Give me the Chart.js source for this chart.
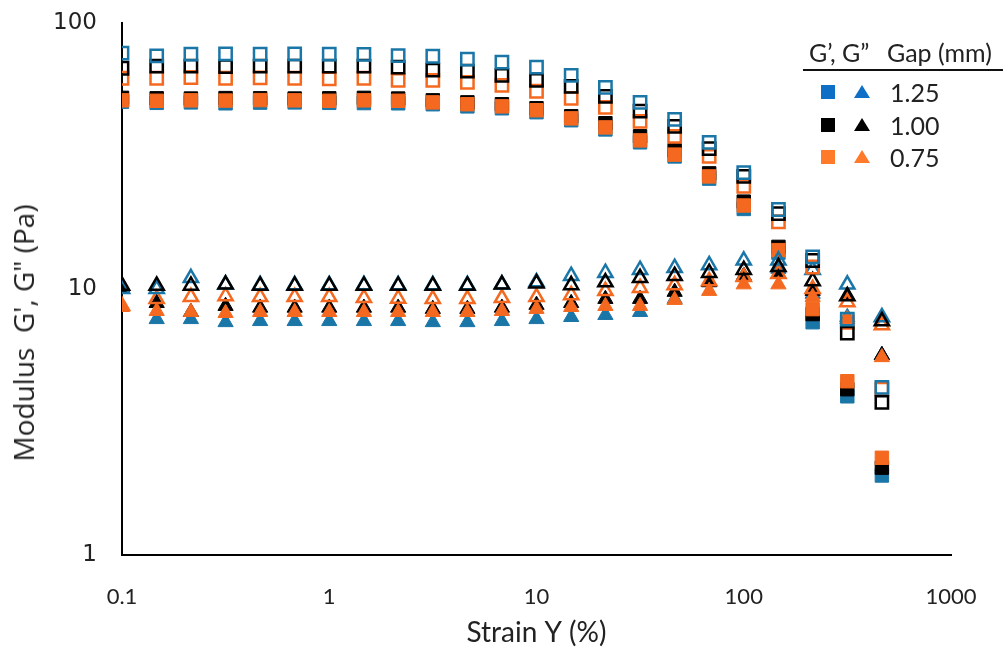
<!DOCTYPE html>
<html>
<head>
<meta charset="utf-8">
<script src="https://cdn.jsdelivr.net/npm/chart.js@4/dist/chart.umd.min.js"></script>
<style>
  body { margin: 0; background: #fff; }
  #wrap { position: relative; width: 1003px; height: 650px; }
  .lg { position: absolute; font-family: Lato, sans-serif; font-size: 25px; color: #222; line-height: 1; white-space: nowrap; }
  .sq { position: absolute; width: 14px; height: 14px; }
  .tri { position: absolute; width: 0; height: 0; border-left: 8px solid transparent; border-right: 8px solid transparent; border-bottom: 13px solid; }
  #uline { position: absolute; left: 803px; top: 69px; width: 200px; height: 2px; background: #111; }
  #ytitle { position: absolute; left: 23px; top: 333px; transform: translate(-50%, -50%) rotate(-90deg);
    font-family: 'Open Sans', sans-serif; font-size: 28px; color: #222; white-space: pre; line-height: 1; }
</style>
</head>
<body>
<div id="wrap">
  <canvas id="chart" width="1003" height="650"></canvas>
  <div id="ytitle">Modulus  G', G" (Pa)</div>
  <div class="lg" style="left:809px; top:40px;">G’, G”</div>
  <div class="lg" style="left:887px; top:40px;">Gap (mm)</div>
  <div id="uline"></div>
  <div id="legendRows"></div>
</div>
<script>
// strain amplitude (%), 6 points per decade
const strain = [0.1, 0.147, 0.215, 0.316, 0.464, 0.681, 1, 1.47, 2.15, 3.16, 4.64, 6.81,
  10, 14.7, 21.5, 31.6, 46.4, 68.1, 100, 147, 215, 316, 464];

const gaps = ['1.25', '1.00', '0.75'];
const xTicks = [0.1, 1, 10, 100, 1000];
const yTicks = [1, 10, 100];

// filled squares
const sqFill125 = [50.6, 50.1, 50.3, 49.9, 50.2, 50.3, 50.1, 50.0, 49.9, 49.5, 48.6, 47.8, 46.2, 43.1, 39.8, 35.6, 31.5, 26.0, 20.0, 13.7, 7.5, 3.95, 1.99];
const sqFill100 = [52.3, 52.1, 52.0, 52.2, 52.1, 52.0, 52.1, 52.3, 52.0, 51.2, 50.3, 49.5, 47.8, 44.6, 42.0, 37.5, 33.2, 27.2, 21.3, 14.4, 8.05, 4.2, 2.13];
const sqFill075 = [51.2, 51.0, 51.2, 51.1, 51.3, 51.2, 51.0, 51.2, 51.0, 50.3, 49.5, 48.6, 47.0, 43.8, 40.5, 36.2, 32.0, 26.5, 20.6, 14.0, 8.4, 4.5, 2.32];
// open squares
const sqOpen125 = [77.1, 75.2, 76.4, 76.6, 76.4, 76.6, 76.4, 76.2, 75.4, 75.0, 73.1, 71.3, 68.2, 63.6, 57.3, 50.3, 43.4, 35.6, 27.4, 19.9, 13.2, 7.7, 4.27];
const sqOpen100 = [67.6, 68.8, 68.8, 68.6, 68.8, 68.9, 68.8, 68.8, 68.2, 66.5, 65.9, 63.6, 60.9, 57.8, 53.0, 46.6, 40.9, 33.7, 26.5, 19.2, 12.8, 6.82, 3.75];
const sqOpen075 = [62.0, 62.0, 62.4, 62.0, 62.2, 62.0, 61.6, 62.0, 60.9, 60.9, 59.8, 58.3, 55.4, 52.1, 48.2, 42.7, 37.5, 31.5, 24.3, 17.9, 12.1, 7.5, 4.2];
// filled triangles
const triFill125 = [10.0, 7.7, 7.7, 7.5, 7.57, 7.57, 7.57, 7.57, 7.57, 7.5, 7.5, 7.57, 7.7, 7.84, 7.98, 8.19, 9.17, 10.6, 11.2, 11.9, 9.58, 7.84, 5.64];
const triFill100 = [10.1, 8.85, 8.19, 8.63, 8.5, 8.5, 8.5, 8.5, 8.5, 8.41, 8.41, 8.5, 8.71, 8.85, 9.17, 9.17, 9.75, 10.6, 11.2, 11.4, 9.83, 9.4, 5.64];
const triFill075 = [8.55, 8.26, 8.19, 8.12, 8.19, 8.19, 8.19, 8.19, 8.19, 8.19, 8.19, 8.26, 8.41, 8.55, 8.63, 8.63, 9.09, 9.83, 10.4, 10.4, 9.33, 7.7, 5.54];
// open triangles
const triOpen125 = [10.0, 10.0, 11.0, 10.4, 10.35, 10.35, 10.35, 10.35, 10.35, 10.35, 10.35, 10.4, 10.6, 11.2, 11.5, 11.8, 12.0, 12.3, 12.8, 12.8, 11.8, 10.4, 7.84];
const triOpen100 = [10.3, 10.3, 10.3, 10.4, 10.3, 10.3, 10.3, 10.3, 10.3, 10.3, 10.3, 10.4, 10.5, 10.35, 10.6, 11.0, 11.2, 11.5, 11.8, 12.1, 10.7, 9.4, 7.57];
const triOpen075 = [8.63, 9.17, 9.33, 9.4, 9.33, 9.33, 9.33, 9.25, 9.2, 9.17, 9.17, 9.25, 9.33, 9.49, 9.83, 10.1, 10.35, 10.7, 11.1, 11.4, 10.0, 8.93, 7.32];

const BLUE = '#1b76a8';
const BLACK = '#000000';
const ORANGE = '#f4691f';
const legendColors = ['#0f6fc6', '#000000', '#ff7a2a'];

function pts(vals) {
  return vals.map((v, i) => ({ x: strain[i], y: v }));
}

function series(label, vals, color, style, open) {
  return {
    label: label,
    data: pts(vals),
    pointStyle: style,
    pointRadius: style === 'rect' ? (open ? 8.7 : 9.5) : (open ? 8.2 : 8.8),
    pointBorderWidth: open ? 2.5 : 1,
    borderColor: color,
    backgroundColor: open ? 'rgba(255,255,255,0)' : color,
    showLine: false,
  };
}

// dataset 0 is painted on top
const datasets = [
  series('open sq 1.25', sqOpen125, BLUE, 'rect', true),
  series('open sq 1.00', sqOpen100, BLACK, 'rect', true),
  series('open sq 0.75', sqOpen075, ORANGE, 'rect', true),
  series('open tri 1.00', triOpen100, BLACK, 'triangle', true),
  series('open tri 1.25', triOpen125, BLUE, 'triangle', true),
  series('open tri 0.75', triOpen075, ORANGE, 'triangle', true),
  series('sq 0.75', sqFill075, ORANGE, 'rect', false),
  series('sq 1.00', sqFill100, BLACK, 'rect', false),
  series('sq 1.25', sqFill125, BLUE, 'rect', false),
  series('tri 0.75', triFill075, ORANGE, 'triangle', false),
  series('tri 1.00', triFill100, BLACK, 'triangle', false),
  series('tri 1.25', triFill125, BLUE, 'triangle', false),
];

const ctx = document.getElementById('chart').getContext('2d');
new Chart(ctx, {
  type: 'scatter',
  data: { datasets: datasets },
  options: {
    responsive: false,
    animation: false,
    devicePixelRatio: 1,
    layout: { padding: { top: 23, right: 52, bottom: 0, left: 0 } },
    plugins: { legend: { display: false }, tooltip: { enabled: false } },
    scales: {
      x: {
        type: 'logarithmic',
        min: 0.1,
        max: 1000,
        afterBuildTicks: (axis) => { axis.ticks = xTicks.map(v => ({ value: v })); },
        afterFit: (axis) => {
          axis.height = 95;
          axis.paddingLeft = 0;
          axis.paddingRight = 0;
        },
        grid: { display: false, drawTicks: false },
        border: { display: true, color: '#000', width: 2 },
        ticks: {
          padding: 29,
          color: '#222',
          font: { family: 'Lato', size: 22 },
          callback: (v) => String(v),
          maxRotation: 0,
        },
        title: {
          display: true,
          text: 'Strain Y (%)',
          color: '#222',
          font: { family: 'Lato', size: 28 },
          padding: { top: 0, bottom: 0 },
        },
      },
      y: {
        type: 'logarithmic',
        min: 1,
        max: 100,
        afterBuildTicks: (axis) => { axis.ticks = yTicks.map(v => ({ value: v })); },
        afterFit: (axis) => {
          axis.width = 122;
          axis.paddingTop = 0;
          axis.paddingBottom = 0;
        },
        grid: { display: false, drawTicks: false },
        border: { display: true, color: '#000', width: 2 },
        ticks: {
          padding: 25,
          color: '#222',
          font: { family: 'DejaVu Sans', size: 23 },
          callback: (v) => String(v),
        },
      },
    },
  },
});

// legend rows: filled square, filled triangle, gap label
const rows = document.getElementById('legendRows');
const rowY = [92, 125, 157];
gaps.forEach((g, i) => {
  const sq = document.createElement('div');
  sq.className = 'sq';
  sq.style.left = '821px';
  sq.style.top = (rowY[i] - 7) + 'px';
  sq.style.background = legendColors[i];
  rows.appendChild(sq);
  const tri = document.createElement('div');
  tri.className = 'tri';
  tri.style.left = '854px';
  tri.style.top = (rowY[i] - 7) + 'px';
  tri.style.borderBottomColor = legendColors[i];
  rows.appendChild(tri);
  const txt = document.createElement('div');
  txt.className = 'lg';
  txt.style.left = '890px';
  txt.style.top = (rowY[i] - 12) + 'px';
  txt.textContent = g;
  rows.appendChild(txt);
});
</script>
</body>
</html>
